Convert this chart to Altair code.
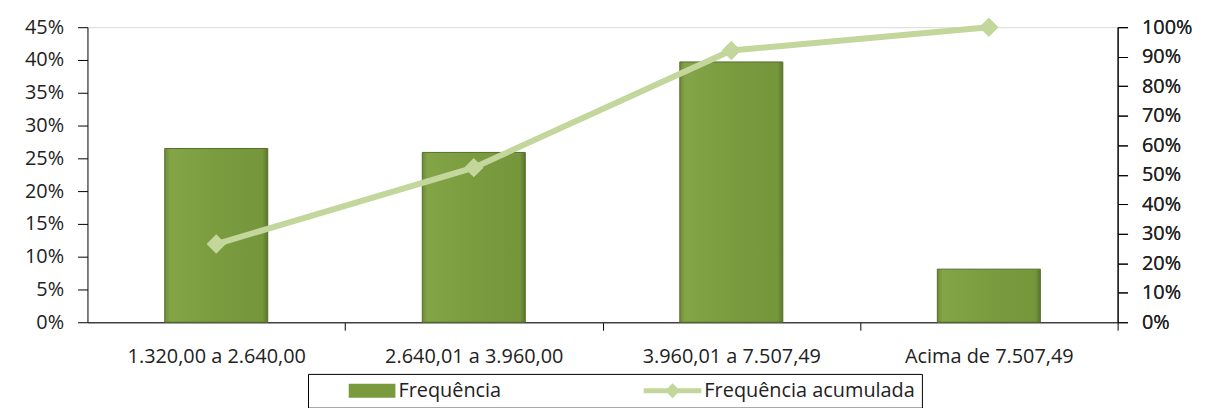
import altair as alt
import pandas as pd

# ---- data ----
categories = ["1.320,00 a 2.640,00", "2.640,01 a 3.960,00", "3.960,01 a 7.507,49", "Acima de 7.507,49"]
frequencia = [0.265, 0.259, 0.397, 0.081]
acumulada = [0.265, 0.524, 0.921, 1.0]
series_names = ["Frequência", "Frequência acumulada"]
left_ticks = [0.0, 0.05, 0.10, 0.15, 0.20, 0.25, 0.30, 0.35, 0.40, 0.45]
right_ticks = [0.0, 0.1, 0.2, 0.3, 0.4, 0.5, 0.6, 0.7, 0.8, 0.9, 1.0]

df = pd.DataFrame({"faixa": categories, "freq": frequencia, "acum": acumulada})
legend_df = pd.DataFrame({"serie": series_names})

FONT = "Open Sans"
BAR_COLOR = "#7a9a3e"
BAR_STROKE = "#556d2c"
LINE_COLOR = "#c3d69b"
PLOT_W = 1037
HALF_STEP = PLOT_W / len(categories) / 2

bar_fill = alt.LinearGradient(
    gradient="linear", x1=0, x2=1, y1=0, y2=0,
    stops=[
        alt.GradientStop(offset=0, color="#6c8a34"),
        alt.GradientStop(offset=0.05, color="#84a448"),
        alt.GradientStop(offset=0.5, color="#7b9b3f"),
        alt.GradientStop(offset=0.95, color="#76963c"),
        alt.GradientStop(offset=1, color="#5a772a"),
    ],
)

x_enc = alt.X(
    "faixa:N", sort=categories, title=None,
    scale=alt.Scale(paddingInner=0.6, paddingOuter=0.3),
    axis=alt.Axis(labelAngle=0, tickOffset=HALF_STEP, labelOffset=-HALF_STEP,
                  tickSize=8, labelPadding=17,
                  domainColor="#404040", domainWidth=1.5, tickColor="#000",
                  labelFont=FONT, labelFontSize=20, labelColor="#222"),
)

bars = alt.Chart(df).mark_bar(fill=bar_fill, stroke=BAR_STROKE, strokeWidth=1).encode(
    x=x_enc,
    y=alt.Y("freq:Q", title=None,
            scale=alt.Scale(domain=[0, 0.45], nice=False),
            axis=alt.Axis(orient="left", values=left_ticks, format=".0%",
                          tickSize=10, labelPadding=14, domainColor="#000", tickColor="#000",
                          labelFont=FONT, labelFontSize=20, labelColor="#222",
                          grid=True, gridColor="#d9d9d9",
                          gridOpacity={"condition": {"test": "datum.value >= 0.449", "value": 1}, "value": 0})),
)

y_right = alt.Y("acum:Q", title=None,
                scale=alt.Scale(domain=[0, 1], nice=False),
                axis=alt.Axis(orient="right", values=right_ticks, format=".0%",
                              tickSize=10, labelPadding=14, domainColor="#000", tickColor="#000",
                              labelFont=FONT, labelFontSize=20, labelColor="#222", grid=False))

line = alt.Chart(df).mark_line(color=LINE_COLOR, strokeWidth=6).encode(x=x_enc, y=y_right)
points = alt.Chart(df).mark_point(shape="diamond", filled=True, size=380, color=LINE_COLOR, opacity=1).encode(
    x=x_enc, y=y_right)

rect_path = "M-1.8,-0.7L2.9,-0.7L2.9,0.7L-1.8,0.7Z"
line_path = "M-2.9,-0.25L2.9,-0.25L2.9,0.25L-2.9,0.25Z M0,-0.75L0.75,0L0,0.75L-0.75,0Z"

leg = alt.Legend(title=None, orient="none", legendX=222, legendY=349, direction="horizontal",
                 strokeColor="#000", fillColor="#fff", padding=7, columnPadding=120,
                 symbolSize=400, symbolStrokeWidth=0, symbolOffset=42, labelOffset=22,
                 labelLimit=400,
                 labelFont=FONT, labelFontSize=20, labelColor="#222", symbolOpacity=1)

legend_layer = alt.Chart(legend_df).transform_filter("false").mark_point(filled=True, opacity=1).encode(
    color=alt.Color("serie:N", scale=alt.Scale(domain=series_names, range=[BAR_COLOR, LINE_COLOR]), legend=leg),
    shape=alt.Shape("serie:N", scale=alt.Scale(domain=series_names, range=[rect_path, line_path]), legend=leg),
)

chart = alt.layer(bars, line, points, legend_layer).resolve_scale(y="independent").properties(
    width=PLOT_W, height=297,
    autosize=alt.AutoSizeParams(type="none"),
    padding={"left": 80, "top": 18, "right": 93, "bottom": 85},
    background="white",
).configure_view(stroke=None)

chart.save("out.html", embed_options={"renderer": "svg", "actions": False})
